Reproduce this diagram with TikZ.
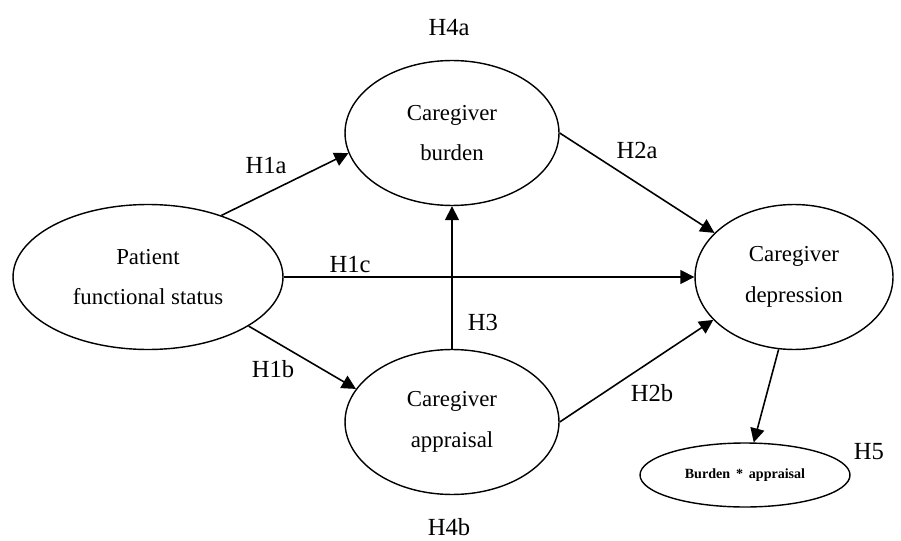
\documentclass[tikz,border=0pt]{standalone}
\usepackage{fontspec}
\setmainfont{Liberation Serif}
\usetikzlibrary{shapes.geometric,arrows.meta,calc}

\tikzset{
  construct/.style={draw, ellipse, line width=0.8pt, inner sep=0pt, align=center,
    minimum height=2.9cm, font=\fontsize{13}{23.2}\selectfont},
  path arrow/.style={line width=0.9pt, -{Triangle[length=8pt,width=8pt]}},
  hyp/.style={font=\fontsize{14}{16}\selectfont}
}

\begin{document}
\begin{tikzpicture}[x=0.02cm,y=-0.02cm]
        \useasboundingbox (0,0) rectangle (901,540);
        % constructs
        \node[construct, minimum width=5.4cm] (pat) at (148,277) {Patient\\functional status};
        \node[construct, minimum width=4.28cm] (bur) at (452,133) {Caregiver\\burden};
        \node[construct, minimum width=4.28cm] (app) at (452,422) {Caregiver\\appraisal};
        \node[construct, minimum width=3.96cm] (dep) at (794,277) {Caregiver\\depression};
        \node[construct, minimum width=4.2cm, minimum height=1.28cm,
              font=\fontsize{8}{9}\selectfont\bfseries] (mod) at (745,475) {Burden \,*\, appraisal};
        % paths
        \draw[path arrow] (pat.40.6) -- (bur.191.4);
        \draw[path arrow] (bur.east) -- (dep.151.5);
        \draw[path arrow] (pat.east) -- (pat.east -| dep.west);
        \draw[path arrow] (app.north) -- (bur.south);
        \draw[path arrow] (pat.-26.1) -- (app.161.7);
        \draw[path arrow] (app.east) -- (dep.208.8);
        \draw[path arrow] (dep.258.4) -- (mod.75);
        % hypotheses
        \node[hyp] (h4a) at (449,28) {H4a};
        \node[hyp] (h1a) at (266,166) {H1a};
        \node[hyp] (h2a) at (637,150) {H2a};
        \node[hyp] (h1c) at (350,264) {H1c};
        \node[hyp] (h3) at (483,322) {H3};
        \node[hyp] (h1b) at (273,369) {H1b};
        \node[hyp] (h2b) at (652,393) {H2b};
        \node[hyp] (h5) at (869,452) {H5};
        \node[hyp] (h4b) at (449,527) {H4b};
\end{tikzpicture}
\end{document}
